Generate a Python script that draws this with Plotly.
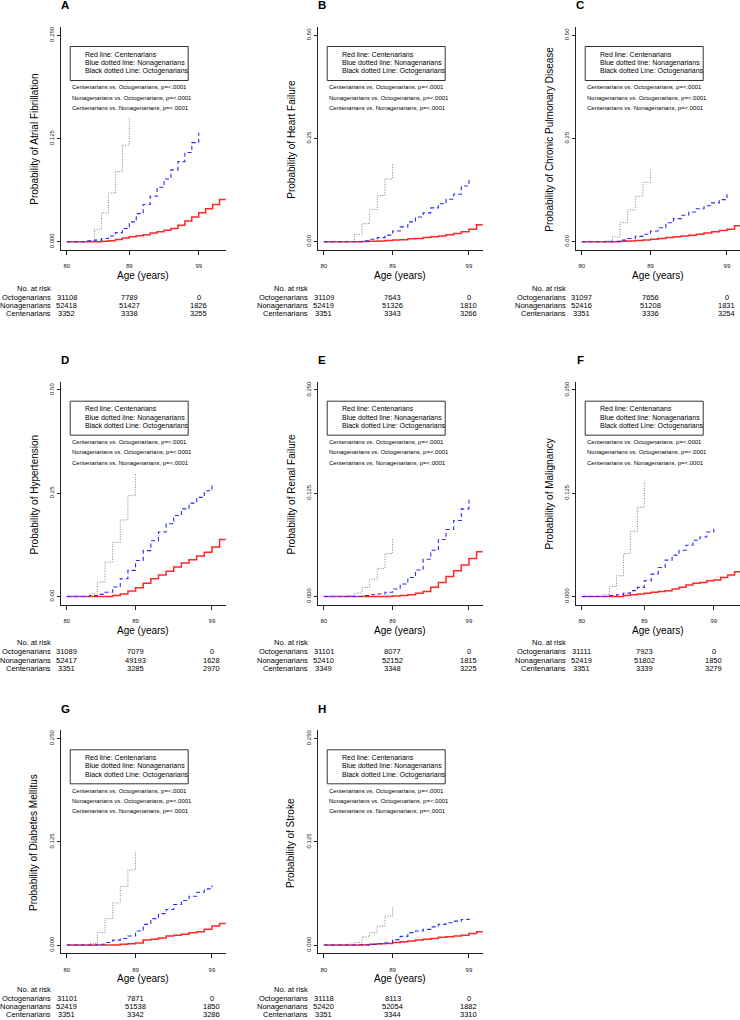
import plotly.graph_objects as go

W, H = 740, 1020
FONT = "Liberation Sans, Arial, sans-serif"

# ---------------- data ----------------
ages_oct = list(range(80, 90))
ages_non = list(range(80, 100))

panel_letters = ["A", "B", "C", "D", "E", "F", "G", "H"]
panel_ylabels = [
    "Probability of Atrial Fibrillation",
    "Probability of Heart Failure",
    "Probability of Chronic Pulmonary Disease",
    "Probability of Hypertension",
    "Probability of Renal Failure",
    "Probability of Malignancy",
    "Probability of Diabetes Mellitus",
    "Probability of Stroke",
]
panel_ymax = [0.25, 0.5, 0.5, 0.5, 0.25, 0.25, 0.25, 0.25]
panel_xmax_age = [102, 100, 100, 100, 100, 102, 100, 100]

x_tick_vals = [80, 89, 99]
x_tick_text = ["80", "89", "99"]
y_tick_text_quarter = ["0.000", "0.125", "0.250"]
y_tick_text_half = ["0.00", "0.25", "0.50"]

# cumulative incidence by age (Octogenarians 80..89, Nonagenarians 80..99, Centenarians 80..max)
af_oct = [0, 0, 0, 0.001, 0.015, 0.035, 0.059, 0.085, 0.117, 0.151]
af_non = [0, 0, 0, 0.001, 0.002, 0.004, 0.007, 0.011, 0.016, 0.024, 0.034, 0.045, 0.055, 0.066, 0.076, 0.087, 0.097, 0.108, 0.120, 0.132]
af_cen = [0, 0, 0, 0, 0, 0.0005, 0.0012, 0.0028, 0.0044, 0.006, 0.0073, 0.0085, 0.0105, 0.012, 0.014, 0.016, 0.020, 0.025, 0.030, 0.035, 0.040, 0.045, 0.051]

hf_oct = [0, 0, 0, 0.001, 0.018, 0.044, 0.078, 0.112, 0.152, 0.191]
hf_non = [0, 0, 0, 0, 0, 0.002, 0.006, 0.010, 0.016, 0.026, 0.036, 0.048, 0.060, 0.070, 0.082, 0.092, 0.103, 0.115, 0.135, 0.155]
hf_cen = [0, 0, 0, 0, 0, 0.0005, 0.001, 0.002, 0.003, 0.004, 0.005, 0.007, 0.008, 0.010, 0.012, 0.014, 0.017, 0.020, 0.024, 0.030, 0.041]

cpd_oct = [0, 0, 0, 0.002, 0.012, 0.046, 0.077, 0.110, 0.144, 0.175]
cpd_non = [0, 0, 0, 0, 0.001, 0.004, 0.008, 0.013, 0.018, 0.026, 0.034, 0.046, 0.056, 0.064, 0.072, 0.080, 0.087, 0.094, 0.102, 0.115]
cpd_cen = [0, 0, 0, 0, 0, 0.001, 0.002, 0.003, 0.004, 0.006, 0.008, 0.010, 0.012, 0.014, 0.016, 0.018, 0.021, 0.024, 0.027, 0.030, 0.039]

htn_oct = [0, 0, 0, 0.006, 0.035, 0.083, 0.131, 0.185, 0.244, 0.298]
htn_non = [0, 0, 0, 0.002, 0.005, 0.010, 0.023, 0.043, 0.063, 0.087, 0.111, 0.135, 0.156, 0.176, 0.196, 0.212, 0.226, 0.240, 0.256, 0.269]
htn_cen = [0, 0, 0, 0, 0, 0, 0.002, 0.006, 0.013, 0.021, 0.032, 0.043, 0.052, 0.061, 0.071, 0.081, 0.089, 0.098, 0.107, 0.120, 0.138]

rf_oct = [0, 0, 0, 0.001, 0.004, 0.011, 0.021, 0.034, 0.052, 0.070]
rf_non = [0, 0, 0, 0, 0, 0.001, 0.002, 0.003, 0.005, 0.009, 0.015, 0.023, 0.032, 0.045, 0.056, 0.069, 0.081, 0.092, 0.106, 0.117]
rf_cen = [0, 0, 0, 0, 0, 0, 0, 0, 0, 0.0005, 0.001, 0.002, 0.004, 0.006, 0.011, 0.017, 0.024, 0.031, 0.038, 0.046, 0.054]

mal_oct = [0, 0, 0, 0.002, 0.012, 0.025, 0.052, 0.079, 0.108, 0.140]
mal_non = [0, 0, 0, 0, 0.001, 0.002, 0.004, 0.007, 0.011, 0.019, 0.027, 0.035, 0.044, 0.050, 0.056, 0.062, 0.068, 0.072, 0.078, 0.082]
mal_cen = [0, 0, 0, 0, 0, 0, 0.001, 0.002, 0.003, 0.004, 0.005, 0.006, 0.007, 0.009, 0.011, 0.014, 0.016, 0.017, 0.019, 0.020, 0.023, 0.026, 0.030]

dm_oct = [0, 0, 0, 0.002, 0.015, 0.032, 0.051, 0.071, 0.091, 0.112]
dm_non = [0, 0, 0, 0, 0.001, 0.003, 0.006, 0.008, 0.011, 0.017, 0.025, 0.032, 0.038, 0.043, 0.049, 0.054, 0.059, 0.064, 0.068, 0.072]
dm_cen = [0, 0, 0, 0, 0, 0, 0, 0.001, 0.0015, 0.0024, 0.006, 0.007, 0.0085, 0.011, 0.012, 0.013, 0.015, 0.016, 0.019, 0.023, 0.026]

st_oct = [0, 0, 0, 0.001, 0.003, 0.010, 0.015, 0.023, 0.035, 0.047]
st_non = [0, 0, 0, 0, 0, 0, 0.001, 0.0015, 0.0025, 0.0065, 0.0105, 0.015, 0.017, 0.019, 0.022, 0.025, 0.027, 0.029, 0.031, 0.033]
st_cen = [0, 0, 0, 0, 0, 0.0005, 0.001, 0.0015, 0.002, 0.003, 0.004, 0.005, 0.006, 0.007, 0.008, 0.0095, 0.010, 0.011, 0.012, 0.014, 0.016]

oct_series = [af_oct, hf_oct, cpd_oct, htn_oct, rf_oct, mal_oct, dm_oct, st_oct]
non_series = [af_non, hf_non, cpd_non, htn_non, rf_non, mal_non, dm_non, st_non]
cen_series = [af_cen, hf_cen, cpd_cen, htn_cen, rf_cen, mal_cen, dm_cen, st_cen]

# numbers at risk at ages 80, 89, 99
risk_octogenarians = [[31108, 7789, 0], [31109, 7643, 0], [31097, 7656, 0], [31089, 7079, 0],
                      [31101, 8077, 0], [31111, 7923, 0], [31101, 7871, 0], [31118, 8113, 0]]
risk_nonagenarians = [[52418, 51427, 1826], [52419, 51326, 1810], [52416, 51208, 1831], [52417, 49193, 1628],
                      [52410, 52152, 1815], [52419, 51802, 1850], [52419, 51538, 1850], [52420, 52054, 1882]]
risk_centenarians = [[3352, 3338, 3255], [3351, 3343, 3266], [3351, 3336, 3254], [3351, 3285, 2970],
                     [3349, 3348, 3225], [3351, 3339, 3279], [3351, 3342, 3286], [3351, 3344, 3310]]

group_names = ["Octogenarians", "Nonagenarians", "Centenarians"]
legend_lines = ["Red line: Centenarians", "Blue dotted line: Nonagenarians", "Black dotted Line: Octogenarians"]
pvalue_lines = ["Centenarians vs. Octogenarians, p=<.0001",
                "Nonagenarians vs. Octogenarians, p=<.0001",
                "Centenarians vs. Nonagenarians, p=<.0001"]

# ---------------- layout geometry (pixels) ----------------
col_left = [60.7, 317.7, 575.7]
row_top = [27.0, 381.7, 730.3]
PW, PH = 165.0, 223.0
panel_pos = [(0, 0), (0, 1), (0, 2), (1, 0), (1, 1), (1, 2), (2, 0), (2, 1)]


def pxx(x):
    return x / W


def pxy(y):
    return 1 - y / H


fig = go.Figure()
annotations = []
shapes = []
layout_axes = {}

for i in range(8):
    r, c = panel_pos[i]
    left = col_left[c]
    top = row_top[r]
    bottom = top + PH
    right = left + PW
    amax = panel_xmax_age[i]
    ext = 0.04 * (amax - 80)
    xr = [80 - ext, amax + ext]
    if right > W:
        xr[1] = xr[0] + (W - left) / PW * (xr[1] - xr[0])
        right = W
    ymax = panel_ymax[i]
    yr = [-0.04 * ymax, 1.04 * ymax]
    n = i + 1
    xa = "xaxis" if n == 1 else f"xaxis{n}"
    ya = "yaxis" if n == 1 else f"yaxis{n}"
    xs = "x" if n == 1 else f"x{n}"
    ys = "y" if n == 1 else f"y{n}"

    layout_axes[xa] = dict(
        domain=[pxx(left), pxx(right)], range=xr, anchor=ys,
        tickmode="array", tickvals=x_tick_vals, ticktext=x_tick_text,
        ticks="outside", ticklen=4, tickwidth=1, tickcolor="#222",
        showline=True, linecolor="#222", linewidth=1, mirror=False,
        showgrid=False, zeroline=False, fixedrange=True,
        tickfont=dict(family=FONT, size=6, color="#222"), ticklabelstandoff=6,
    )
    layout_axes[ya] = dict(
        domain=[pxy(bottom), pxy(top)], range=yr, anchor=xs,
        tickmode="array", tickvals=[0, ymax / 2, ymax],
        ticktext=y_tick_text_quarter if ymax == 0.25 else y_tick_text_half,
        tickangle=-90,
        ticks="outside", ticklen=3, tickwidth=1, tickcolor="#222",
        showline=True, linecolor="#222", linewidth=1, mirror=False,
        showgrid=False, zeroline=False, fixedrange=True,
        tickfont=dict(family=FONT, size=6, color="#222"),
    )

    # curves
    cen_vals = cen_series[i]
    cen_ages = list(range(80, 80 + len(cen_vals)))
    fig.add_trace(go.Scatter(x=cen_ages + [xr[1] + 1], y=cen_vals + [cen_vals[-1]],
                             mode="lines", line=dict(color="rgb(255,40,40)", width=1.5, shape="hv"),
                             xaxis=xs, yaxis=ys, showlegend=False, hoverinfo="skip"))
    fig.add_trace(go.Scatter(x=ages_oct, y=oct_series[i], mode="lines",
                             line=dict(color="#808080", width=1, dash="1px,1.5px", shape="hv"),
                             xaxis=xs, yaxis=ys, showlegend=False, hoverinfo="skip"))
    fig.add_trace(go.Scatter(x=ages_non, y=non_series[i], mode="lines",
                             line=dict(color="rgb(40,40,255)", width=1.1, dash="4px,3px", shape="hv"),
                             xaxis=xs, yaxis=ys, showlegend=False, hoverinfo="skip"))

    # panel letter
    annotations.append(dict(text=f"<b>{panel_letters[i]}</b>", x=pxx(left + 4.3), y=pxy(top - 21.5),
                            xref="paper", yref="paper", showarrow=False, xanchor="center", yanchor="middle",
                            font=dict(family=FONT, size=11.5, color="black")))
    # y title
    annotations.append(dict(text=panel_ylabels[i], x=pxx(left - 26.5), y=pxy(top + PH / 2 + 1),
                            xref="paper", yref="paper", showarrow=False, textangle=-90,
                            xanchor="center", yanchor="middle",
                            font=dict(family=FONT, size=10, color="black")))
    # x title
    annotations.append(dict(text="Age (years)", x=pxx(left + PW / 2), y=pxy(bottom + 25.5),
                            xref="paper", yref="paper", showarrow=False, xanchor="center", yanchor="middle",
                            font=dict(family=FONT, size=10, color="black")))
    # legend box
    bx0, bx1 = left + 9.5, left + 127.5
    by0 = top + 19.5
    by1 = by0 + 34
    shapes.append(dict(type="rect", xref="paper", yref="paper",
                       x0=pxx(bx0), x1=pxx(bx1), y0=pxy(by1), y1=pxy(by0),
                       line=dict(color="#333", width=1)))
    for k, t in enumerate(legend_lines):
        annotations.append(dict(text=t, x=pxx(bx0 + 12.7), y=pxy(by0 + 7.6 + 8.7 * k),
                                xref="paper", yref="paper", showarrow=False, xanchor="left", yanchor="middle",
                                font=dict(family=FONT, size=7.0, color="black")))
    for k, t in enumerate(pvalue_lines):
        annotations.append(dict(text=t, x=pxx(bx0), y=pxy(by0 + 40.8 + 10.3 * k),
                                xref="paper", yref="paper", showarrow=False, xanchor="left", yanchor="middle",
                                font=dict(family=FONT, size=6, color="black")))
    # risk table
    tbl_top = bottom + (36.5 if r == 2 else 38)
    tbl_step = 8.0 if r == 2 else 8.3
    annotations.append(dict(text="No. at risk", x=pxx(left - 8.2), y=pxy(tbl_top),
                            xref="paper", yref="paper", showarrow=False, xanchor="right", yanchor="middle",
                            font=dict(family=FONT, size=7.5, color="black")))
    risk_rows = [risk_octogenarians[i], risk_nonagenarians[i], risk_centenarians[i]]
    for k, (gname, vals) in enumerate(zip(group_names, risk_rows)):
        yy = pxy(tbl_top + 9 + tbl_step * k)
        annotations.append(dict(text=gname, x=pxx(left - 8.2), y=yy,
                                xref="paper", yref="paper", showarrow=False, xanchor="right", yanchor="middle",
                                font=dict(family=FONT, size=7.5, color="black")))
        for age, v in zip(x_tick_vals, vals):
            annotations.append(dict(text=str(v), x=age, y=yy, xref=xs, yref="paper",
                                    showarrow=False, xanchor="center", yanchor="middle",
                                    font=dict(family=FONT, size=7.5, color="black")))

fig.update_layout(
    width=W, height=H, margin=dict(l=0, r=0, t=0, b=0),
    paper_bgcolor="white", plot_bgcolor="white",
    showlegend=False, annotations=annotations, shapes=shapes,
    font=dict(family=FONT, color="black"),
    **layout_axes,
)

fig.write_html("out.html", config={"displayModeBar": False},
               post_script="document.body.style.margin='0';document.body.style.overflow='hidden';")
